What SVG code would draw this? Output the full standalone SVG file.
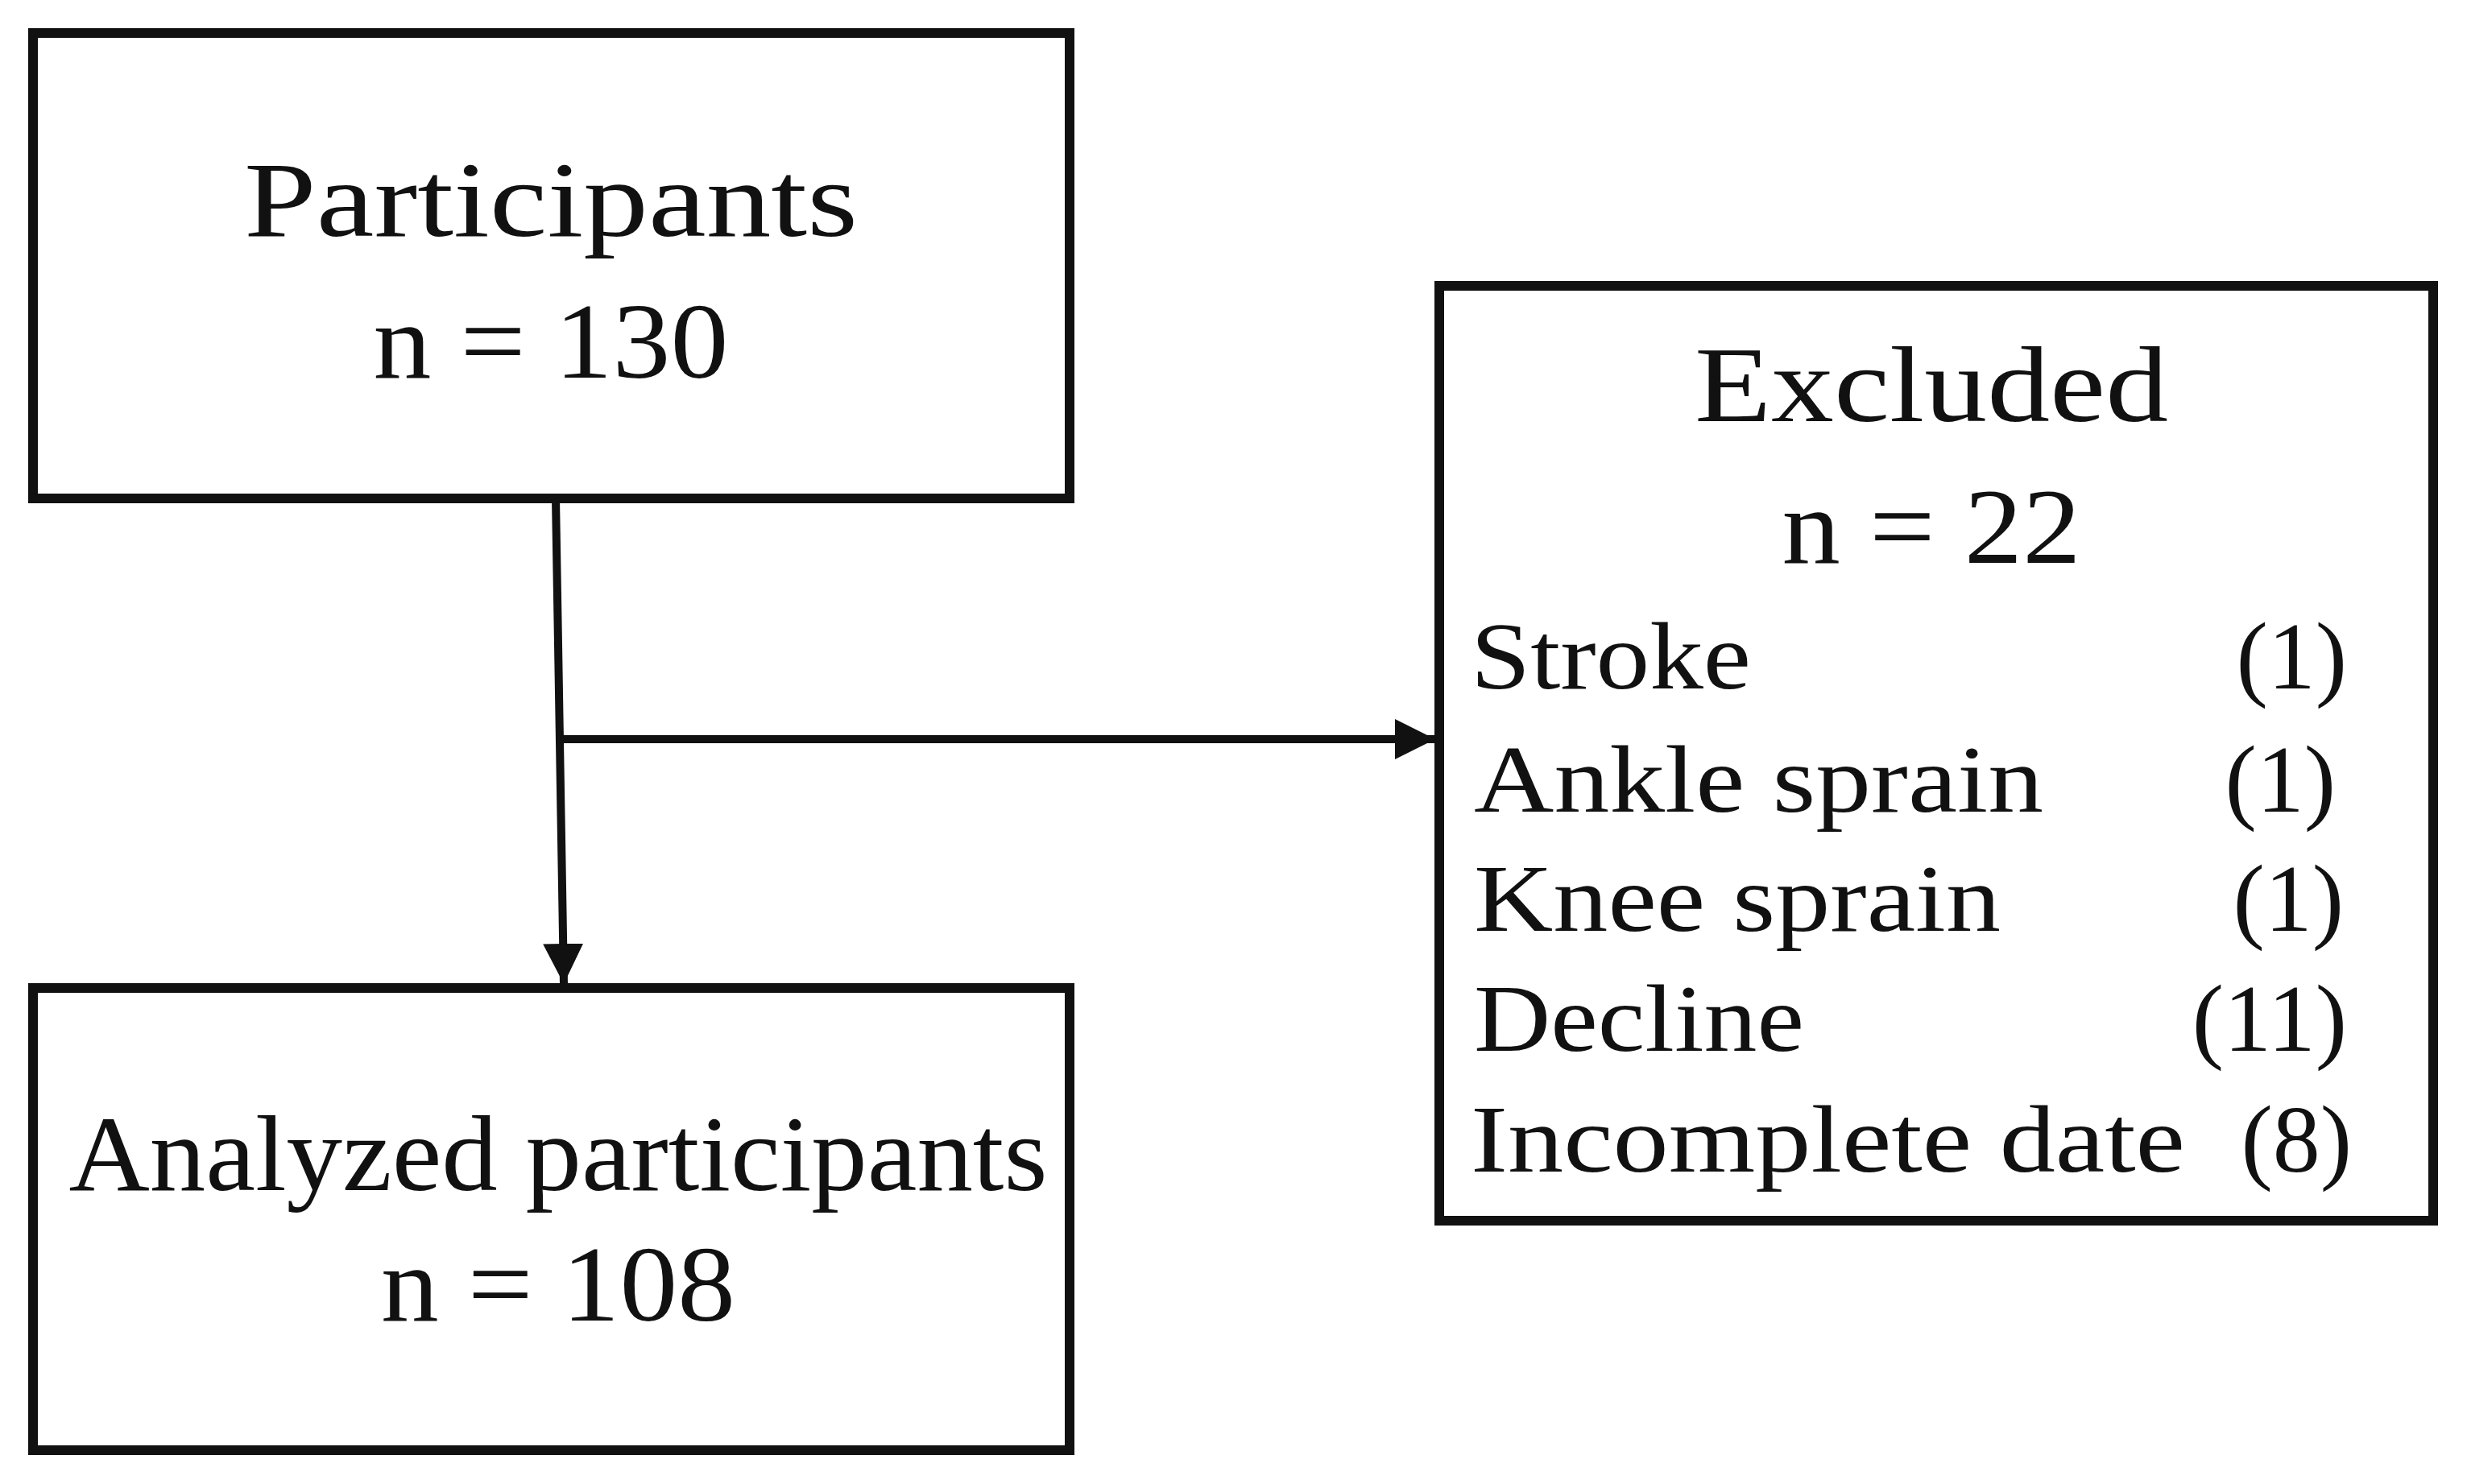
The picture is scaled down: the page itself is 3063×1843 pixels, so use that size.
<svg xmlns="http://www.w3.org/2000/svg" width="3063" height="1843" viewBox="0 0 3063 1843">
<style>
.box{fill:#fff;stroke:#111;stroke-width:12}
.t{font-family:"Liberation Serif",serif;fill:#111;font-size:134px;text-anchor:middle}
.l{font-family:"Liberation Serif",serif;fill:#111;font-size:118px}
.r{text-anchor:end}
.c{stroke:#111;stroke-width:10;fill:none}
</style>
<defs><marker id="a" markerWidth="6" markerHeight="6" refX="5" refY="3" orient="auto" markerUnits="strokeWidth"><path d="M0,0.5 L5,3 L0,5.5z" fill="#111"/></marker></defs>
<rect width="3063" height="1843" fill="#fff"/>
<g id="participants"><rect class="box" x="41" y="41" width="1287" height="578"/>
<text class="t" x="684" y="293" textLength="762" lengthAdjust="spacingAndGlyphs">Participants</text><text class="t" x="684" y="469" textLength="441" lengthAdjust="spacingAndGlyphs">n = 130</text></g>
<g id="analyzed"><rect class="box" x="41" y="1227" width="1287" height="574"/>
<text class="t" x="693" y="1478" textLength="1215" lengthAdjust="spacingAndGlyphs">Analyzed participants</text><text class="t" x="693" y="1640" textLength="440" lengthAdjust="spacingAndGlyphs">n = 108</text></g>
<g id="excluded"><rect class="box" x="1787" y="355" width="1234" height="1161"/>
<text class="t" x="2398" y="523" textLength="588" lengthAdjust="spacingAndGlyphs">Excluded</text><text class="t" x="2398" y="699" textLength="371" lengthAdjust="spacingAndGlyphs">n = 22</text>
<text class="l" x="1826" y="855" textLength="348" lengthAdjust="spacingAndGlyphs">Stroke</text><text class="l r" x="2914" y="855">(1)</text>
<text class="l" x="1830" y="1008" textLength="707" lengthAdjust="spacingAndGlyphs">Ankle sprain</text><text class="l r" x="2900" y="1008">(1)</text>
<text class="l" x="1830" y="1156" textLength="654" lengthAdjust="spacingAndGlyphs">Knee sprain</text><text class="l r" x="2910" y="1156">(1)</text>
<text class="l" x="1830" y="1305" textLength="410" lengthAdjust="spacingAndGlyphs">Decline</text><text class="l r" x="2914" y="1305">(11)</text>
<text class="l" x="1826" y="1455" textLength="887" lengthAdjust="spacingAndGlyphs">Incomplete date</text><text class="l r" x="2920" y="1455">(8)</text></g>
<g id="connectors">
<path class="c" d="M690,619 L700,1222" marker-end="url(#a)"/>
<path class="c" d="M697,918 L1782,918" marker-end="url(#a)"/>
</g>
</svg>
